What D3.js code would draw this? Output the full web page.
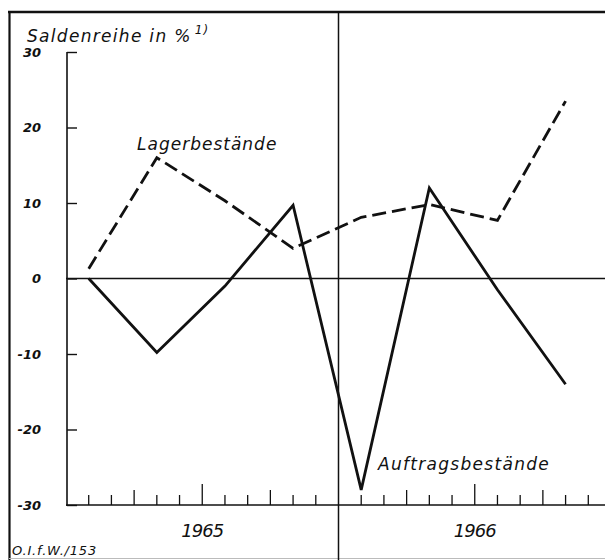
<!DOCTYPE html>
<html>
<head>
<meta charset="utf-8">
<script src="https://cdn.jsdelivr.net/npm/d3@7"></script>
<style>
  html, body { margin: 0; padding: 0; background: #fff; }
  svg { display: block; }
  text { font-family: "DejaVu Sans", sans-serif; font-style: italic; fill: #111; }
</style>
</head>
<body>
<svg id="chart" width="605" height="560"></svg>
<script>
// ---- data ----
const months = [1, 4, 7, 10, 13, 16, 19, 22];            // months since start of 1965
const auftragsbestaende = [0, -9.8, -1, 9.7, -28, 12, -1.5, -14];
const lagerbestaende = [1.3, 16, 10.3, 4, 8.1, 9.8, 7.7, 23.5];
const yTicks = [-30, -20, -10, 0, 10, 20, 30];
const years = ["1965", "1966"];
const yearCenters = [6, 18];
const seriesNames = ["Lagerbestände", "Auftragsbestände"];

const svg = d3.select("#chart");
const x = d3.scaleLinear().domain([0, 24]).range([66, 611]);
const y = d3.scaleLinear().domain([-30, 30]).range([505, 52]);
const ink = "#111";

// frame
svg.append("line").attr("x1", 8).attr("x2", 605).attr("y1", 12).attr("y2", 12)
  .attr("stroke", ink).attr("stroke-width", 2.4);
svg.append("line").attr("x1", 9.5).attr("x2", 9.5).attr("y1", 11).attr("y2", 560)
  .attr("stroke", ink).attr("stroke-width", 2.2);
svg.append("line").attr("x1", 9).attr("x2", 605).attr("y1", 558.5).attr("y2", 558.5)
  .attr("stroke", "#bbb").attr("stroke-width", 1);
// year divider
svg.append("line").attr("x1", x(12)).attr("x2", x(12)).attr("y1", 12).attr("y2", 560)
  .attr("stroke", ink).attr("stroke-width", 1.5);

// y axis
const yAxis = d3.axisLeft(y).tickValues(yTicks).tickSize(-10).tickPadding(26)
  .tickFormat(d => String(d));
const ya = svg.append("g").attr("transform", `translate(${x(0) + 1},0)`).call(yAxis);
ya.select(".domain").remove();
ya.selectAll(".tick line").attr("stroke", ink).attr("stroke-width", 1.4);
ya.selectAll(".tick text").style("font-size", "13px").style("font-weight", "bold")
  .style("font-family", "DejaVu Sans").style("font-style", "italic").attr("fill", ink);
svg.append("line").attr("x1", x(0) + 1).attr("x2", x(0) + 1).attr("y1", y(30)).attr("y2", y(-30) + 1)
  .attr("stroke", ink).attr("stroke-width", 1.6);

// zero line
svg.append("line").attr("x1", x(0)).attr("x2", 605).attr("y1", y(0)).attr("y2", y(0))
  .attr("stroke", ink).attr("stroke-width", 1.3);

// x axis baseline and month ticks
svg.append("line").attr("x1", x(0)).attr("x2", 605).attr("y1", y(-30)).attr("y2", y(-30))
  .attr("stroke", ink).attr("stroke-width", 1.6);
const monthTicks = d3.range(1, 24).filter(m => m !== 12);
svg.append("g").selectAll("line").data(monthTicks).join("line")
  .attr("x1", d => x(d)).attr("x2", d => x(d))
  .attr("y1", y(-30))
  .attr("y2", d => y(-30) - (d % 6 === 0 ? 21 : d % 3 === 0 ? 15 : 10))
  .attr("stroke", ink).attr("stroke-width", 1.3);

// year labels
svg.append("g").selectAll("text").data(years).join("text")
  .attr("x", (d, i) => x(yearCenters[i])).attr("y", 537)
  .attr("text-anchor", "middle").style("font-size", "18px").style("letter-spacing", "-1px")
  .text(d => d);

// lines
const line = d3.line().x((d, i) => x(months[i])).y(d => y(d));
svg.append("path").datum(lagerbestaende).attr("d", line)
  .attr("fill", "none").attr("stroke", ink).attr("stroke-width", 2.8)
  .attr("stroke-dasharray", "14,6").attr("stroke-linejoin", "miter");
svg.append("path").datum(auftragsbestaende).attr("d", line)
  .attr("fill", "none").attr("stroke", ink).attr("stroke-width", 2.8)
  .attr("stroke-linejoin", "miter");

// labels
svg.append("text").attr("x", 137).attr("y", 150).style("font-size", "17px")
  .style("letter-spacing", "1px").text(seriesNames[0]);
svg.append("text").attr("x", 378).attr("y", 470).style("font-size", "17px")
  .style("letter-spacing", "1.3px").text(seriesNames[1]);

const title = svg.append("text").attr("x", 27).attr("y", 42).style("font-size", "17px")
  .style("letter-spacing", "1.3px");
title.append("tspan").text("Saldenreihe in %");
title.append("tspan").attr("dx", 3).attr("dy", -8).style("font-size", "12px").text("1)");

svg.append("text").attr("x", 12).attr("y", 555).style("font-size", "13px")
  .style("letter-spacing", "0.8px").text("O.I.f.W./153");
</script>
</body>
</html>
